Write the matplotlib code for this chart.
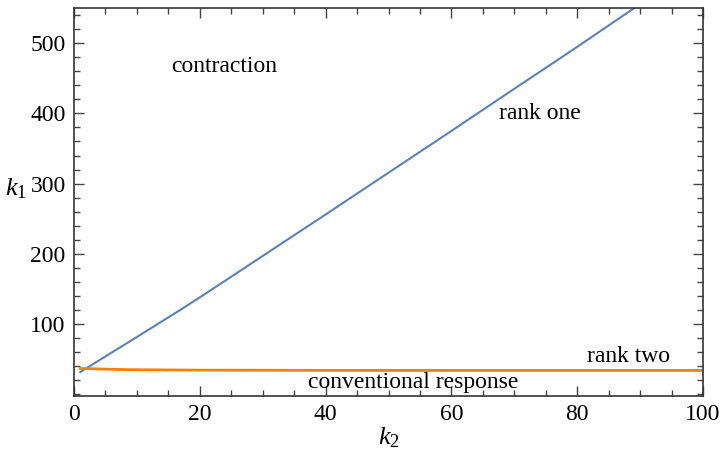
import numpy as np
import matplotlib
matplotlib.use("Agg")
from matplotlib import pyplot as plt
from matplotlib.ticker import MultipleLocator

# rank one boundary (k2 -> k1)
k2_one = [1, 5, 10, 16.85, 20, 30, 40, 48.2, 50, 60, 70, 76.8, 80, 89, 90]
k1_one = [31.7, 54, 81.6, 119.9, 138, 197, 256, 304.8, 315.5, 375, 435, 475.5, 494.7, 549.5, 555.6]

# rank two boundary
k2_two = [1, 5, 10, 20, 40, 60, 80, 100]
k1_two = [36.8, 35.8, 35.0, 34.4, 34.1, 34.0, 34.0, 34.0]

region_labels = ["contraction", "rank one", "rank two", "conventional response"]
label_k2 = [23.8, 74.1, 88.1, 54.0]
label_k1 = [467, 400, 54.5, 17.5]

plt.rcParams['font.family'] = ['Liberation Serif', 'DejaVu Serif']
plt.rcParams['mathtext.fontset'] = 'custom'
plt.rcParams['mathtext.it'] = 'Liberation Serif:italic'
plt.rcParams['mathtext.rm'] = 'Liberation Serif'

fig = plt.figure(figsize=(7.2, 4.5), dpi=100)
ax = fig.add_axes([0.1028, 0.12, 0.8736, 0.8622])

ax.plot(k2_one, k1_one, color='#5E81B5', lw=1.5)
ax.plot(k2_two, k1_two, color='#FF8000', lw=2)

for t, x, y in zip(region_labels, label_k2, label_k1):
    ax.text(x, y, t, fontsize=17, ha='center', va='center')

ax.set_xlim(0, 100)
ax.set_ylim(-2.4, 550)
ax.xaxis.set_major_locator(MultipleLocator(20))
ax.xaxis.set_minor_locator(MultipleLocator(5))
ax.yaxis.set_major_locator(MultipleLocator(100))
ax.yaxis.set_minor_locator(MultipleLocator(20))
ax.set_yticks([100, 200, 300, 400, 500])
ax.tick_params(which='both', direction='in', top=True, right=True,
               labelsize=17, color='#444444', width=1)
ax.tick_params(which='major', length=7, pad=6)
ax.tick_params(which='minor', length=4)
for s in ax.spines.values():
    s.set_color('#333333')
    s.set_linewidth(1.2)

ax.set_xlabel(r'$k_2$', fontsize=19, labelpad=0)
ax.set_ylabel(r'$k_1$', fontsize=19, rotation=0, ha='center', va='center')
ax.yaxis.set_label_coords(-0.092, 0.535)

fig.savefig("out.png", dpi=100)
